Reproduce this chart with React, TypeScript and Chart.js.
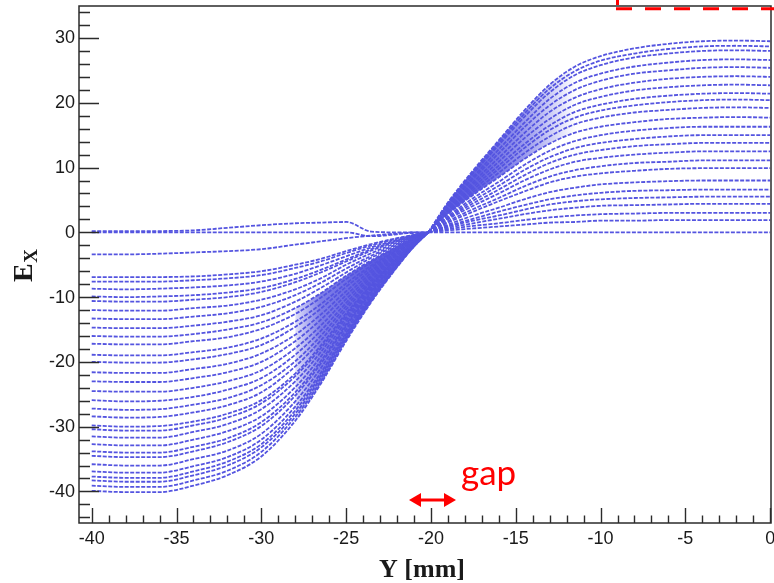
import React, { useEffect, useRef } from 'react';
import { Chart, registerables } from 'chart.js';

Chart.register(...registerables);

// ---- Axis ranges and ticks ----
const X_MIN = -40.75;
const X_MAX = 0.05;
const Y_MIN = -44.87;
const Y_MAX = 34.94;
const X_MAJOR_TICKS = [-40, -35, -30, -25, -20, -15, -10, -5, 0];
const X_TICK_LABELS = ['-40', '-35', '-30', '-25', '-20', '-15', '-10', '-5', '0'];
const Y_MAJOR_TICKS = [-40, -30, -20, -10, 0, 10, 20, 30];
const Y_TICK_LABELS = ['-40', '-30', '-20', '-10', '0', '10', '20', '30'];
const X_MINOR_STEP = 1;
const Y_MINOR_STEP = 2;

const X_TITLE = 'Y [mm]';
const Y_TITLE_MAIN = 'E';
const Y_TITLE_SUB = 'X';
const GAP_LABEL = 'gap';

// ---- Data: Y positions (mm) where each curve is sampled ----
const LEFT_Y = [-40, -38, -36, -34, -32, -30, -28, -26.5, -25, -23.5, -22, -21, -20.15];
const RIGHT_Y = [-20.15, -19, -17.5, -16, -14.5, -13, -11.5, -10, -8, -6, -4, -2, 0];

// ---- E_X values of each curve on the left side (Y < gap centre) ----
const LEFT_CURVES = [
  [0.2, 0.2, 0.2, 0.3, 0.7, 1.1, 1.4, 1.5, 1.6, 0.1, 0, 0, 0],
  [0, 0, 0, 0, 0, 0, 0, 0, 0, -0.6, -0.3, 0, 0],
  [-3.4, -3.4, -3.3, -3.1, -2.9, -2.6, -1.9, -1.4, -0.9, -0.5, -0.2, -0.1, 0],
  [-6.9, -6.9, -6.9, -6.8, -6.5, -6.0, -5.0, -4.1, -2.9, -1.8, -0.9, -0.4, 0],
  [-7.6, -7.6, -7.6, -7.4, -7.1, -6.6, -5.5, -4.5, -3.2, -2.0, -1.0, -0.4, 0],
  [-8.7, -8.8, -8.7, -8.5, -8.2, -7.6, -6.4, -5.1, -3.7, -2.3, -1.2, -0.5, 0],
  [-9.9, -10.0, -9.9, -9.7, -9.3, -8.6, -7.2, -5.8, -4.2, -2.6, -1.3, -0.5, 0],
  [-10.6, -10.7, -10.7, -10.4, -10.0, -9.2, -7.7, -6.2, -4.5, -2.8, -1.4, -0.6, 0],
  [-12.0, -12.1, -12.1, -11.7, -11.3, -10.4, -8.8, -7.1, -5.0, -3.2, -1.6, -0.7, 0],
  [-13.3, -13.4, -13.4, -13.0, -12.5, -11.5, -9.7, -7.8, -5.6, -3.6, -1.8, -0.7, 0],
  [-14.7, -14.8, -14.8, -14.4, -13.8, -12.8, -10.7, -8.6, -6.2, -3.9, -2.0, -0.8, 0],
  [-16.0, -16.1, -16.1, -15.7, -15.0, -13.9, -11.7, -9.4, -6.7, -4.3, -2.2, -0.9, 0],
  [-17.2, -17.3, -17.3, -16.8, -16.2, -14.9, -12.6, -10.1, -7.2, -4.6, -2.3, -0.9, 0],
  [-18.9, -19.0, -19.0, -18.5, -17.8, -16.4, -13.8, -11.1, -7.9, -5.1, -2.6, -1.0, 0],
  [-20.0, -20.1, -20.1, -19.6, -18.8, -17.4, -14.6, -11.8, -8.4, -5.4, -2.7, -1.1, 0],
  [-21.6, -21.7, -21.7, -21.1, -20.3, -18.7, -15.8, -12.7, -9.1, -5.8, -2.9, -1.2, 0],
  [-23.0, -23.1, -23.1, -22.5, -21.6, -20.0, -16.8, -13.5, -9.7, -6.2, -3.1, -1.3, 0],
  [-24.5, -24.6, -24.6, -24.0, -23.0, -21.3, -17.9, -14.4, -10.3, -6.6, -3.3, -1.3, 0],
  [-25.9, -26.1, -26.0, -25.4, -24.3, -22.5, -18.9, -15.2, -10.9, -6.9, -3.5, -1.4, 0],
  [-27.2, -27.4, -27.3, -26.6, -25.6, -23.6, -19.9, -16.0, -11.4, -7.3, -3.7, -1.5, 0],
  [-28.4, -28.6, -28.5, -27.8, -26.7, -24.7, -20.7, -16.7, -11.9, -7.6, -3.9, -1.6, 0],
  [-29.8, -30.0, -29.9, -29.2, -28.0, -25.9, -21.8, -17.5, -12.5, -8.0, -4.1, -1.6, 0],
  [-30.4, -30.6, -30.6, -29.8, -28.6, -26.4, -22.2, -17.9, -12.8, -8.1, -4.1, -1.7, 0],
  [-31.5, -31.7, -31.7, -30.8, -29.6, -27.3, -23.0, -18.5, -13.2, -8.4, -4.3, -1.7, 0],
  [-32.7, -32.9, -32.9, -32.0, -30.7, -28.4, -23.9, -19.2, -13.7, -8.7, -4.4, -1.8, 0],
  [-33.8, -34.0, -34.0, -33.1, -31.8, -29.3, -24.7, -19.9, -14.2, -9.0, -4.6, -1.9, 0],
  [-34.5, -34.7, -34.7, -33.8, -32.4, -29.9, -25.2, -20.3, -14.5, -9.2, -4.7, -1.9, 0],
  [-35.8, -36.0, -36.0, -35.0, -33.7, -31.1, -26.1, -21.0, -15.0, -9.6, -4.9, -2.0, 0],
  [-36.9, -37.1, -37.1, -36.1, -34.7, -32.0, -26.9, -21.7, -15.5, -9.9, -5.0, -2.0, 0],
  [-37.7, -37.9, -37.9, -36.9, -35.4, -32.7, -27.5, -22.1, -15.8, -10.1, -5.1, -2.1, 0],
  [-38.3, -38.5, -38.5, -37.5, -36.0, -33.2, -28.0, -22.5, -16.1, -10.2, -5.2, -2.1, 0],
  [-39.1, -39.3, -39.3, -38.3, -36.8, -33.9, -28.5, -23.0, -16.4, -10.5, -5.3, -2.2, 0],
  [-39.9, -40.1, -40.1, -39.1, -37.5, -34.6, -29.1, -23.4, -16.8, -10.7, -5.4, -2.2, 0],
];

// ---- E_X values of each curve on the right side (Y > gap centre) ----
const RIGHT_CURVES = [
  [0, 4.6, 9.6, 14.2, 18.8, 22.8, 25.6, 27.2, 28.4, 29.1, 29.5, 29.6, 29.5],
  [0, 4.5, 9.3, 13.8, 18.3, 22.2, 24.9, 26.5, 27.6, 28.3, 28.7, 28.8, 28.7],
  [0, 4.4, 9.1, 13.5, 17.8, 21.6, 24.3, 25.8, 27.0, 27.6, 28.0, 28.1, 28.0],
  [0, 4.1, 8.6, 12.8, 16.9, 20.6, 23.1, 24.5, 25.6, 26.2, 26.6, 26.7, 26.6],
  [0, 4.0, 8.3, 12.2, 16.2, 19.6, 22.0, 23.4, 24.5, 25.0, 25.4, 25.5, 25.4],
  [0, 3.7, 7.8, 11.5, 15.3, 18.6, 20.8, 22.1, 23.1, 23.7, 24.0, 24.1, 24.0],
  [0, 3.5, 7.4, 10.9, 14.5, 17.5, 19.7, 20.9, 21.9, 22.4, 22.7, 22.8, 22.7],
  [0, 3.3, 7.0, 10.3, 13.6, 16.5, 18.6, 19.7, 20.6, 21.1, 21.4, 21.5, 21.4],
  [0, 3.2, 6.6, 9.8, 13.0, 15.8, 17.7, 18.8, 19.6, 20.1, 20.4, 20.5, 20.4],
  [0, 3.0, 6.2, 9.2, 12.2, 14.8, 16.7, 17.7, 18.5, 18.9, 19.2, 19.3, 19.2],
  [0, 2.8, 5.8, 8.5, 11.3, 13.7, 15.4, 16.3, 17.0, 17.5, 17.7, 17.8, 17.7],
  [0, 2.5, 5.3, 7.8, 10.4, 12.6, 14.1, 15.0, 15.7, 16.1, 16.3, 16.3, 16.3],
  [0, 2.3, 4.9, 7.2, 9.6, 11.6, 13.0, 13.8, 14.4, 14.8, 15.0, 15.0, 15.0],
  [0, 2.2, 4.5, 6.6, 8.8, 10.7, 12.0, 12.7, 13.3, 13.6, 13.8, 13.8, 13.8],
  [0, 2.0, 4.1, 6.0, 8.0, 9.7, 10.9, 11.5, 12.0, 12.3, 12.5, 12.5, 12.5],
  [0, 1.7, 3.6, 5.3, 7.1, 8.6, 9.6, 10.2, 10.7, 10.9, 11.1, 11.1, 11.1],
  [0, 1.5, 3.2, 4.8, 6.3, 7.7, 8.6, 9.1, 9.5, 9.8, 9.9, 9.9, 9.9],
  [0, 1.2, 2.6, 3.8, 5.1, 6.2, 6.9, 7.4, 7.7, 7.9, 8.0, 8.0, 8.0],
  [0, 1.0, 2.1, 3.2, 4.2, 5.1, 5.7, 6.1, 6.4, 6.5, 6.6, 6.6, 6.6],
  [0, 0.9, 1.8, 2.6, 3.5, 4.3, 4.8, 5.1, 5.3, 5.4, 5.5, 5.5, 5.5],
  [0, 0.7, 1.4, 2.1, 2.8, 3.4, 3.8, 4.1, 4.2, 4.3, 4.4, 4.4, 4.4],
  [0, 0.5, 1.0, 1.4, 1.9, 2.3, 2.6, 2.8, 2.9, 3.0, 3.0, 3.0, 3.0],
  [0, 0.3, 0.6, 0.9, 1.2, 1.5, 1.6, 1.8, 1.8, 1.9, 1.9, 1.9, 1.9],
  [0, 0, 0, 0, 0, 0, 0, 0, 0, 0, 0, 0, 0],
];

// Where the dense vertical hatching appears near the gap: Y range (mm)
// and the curve (index) that bounds it on the inner side.
const LEFT_BAND_FROM = -28.5;
const LEFT_BAND_INNER = 11;
const RIGHT_BAND_TO = -11.5;
const RIGHT_BAND_INNER = 10;

// ---- Styles ----
const LINE_COLOR = 'rgb(84, 84, 224)';
const BAND_RGB = '84,84,224';
const AXIS_COLOR = '#2b2b2b';
const TEXT_COLOR = '#1a1a1a';
const RED = 'rgb(255, 0, 0)';

const framePlugin = {
  id: 'rootFrame',
  afterDraw(chart: any) {
    const ctx: CanvasRenderingContext2D = chart.ctx;
    const { left, right, top, bottom } = chart.chartArea;
    const xs = chart.scales.x;
    const ys = chart.scales.y;
    ctx.save();

    // frame
    ctx.strokeStyle = AXIS_COLOR;
    ctx.lineWidth = 1.5;
    ctx.setLineDash([]);
    ctx.strokeRect(left, top, right - left, bottom - top);

    // x ticks (inward)
    ctx.lineWidth = 1.4;
    ctx.beginPath();
    for (let v = Math.ceil(X_MIN); v <= X_MAX + 1e-9; v += X_MINOR_STEP) {
      const px = Math.round(xs.getPixelForValue(v)) + 0.5;
      const major = X_MAJOR_TICKS.includes(v);
      ctx.moveTo(px, bottom);
      ctx.lineTo(px, bottom - (major ? 15 : 7.5));
    }
    // y ticks (inward)
    const yStart = Math.ceil(Y_MIN / Y_MINOR_STEP) * Y_MINOR_STEP;
    for (let v = yStart; v <= Y_MAX + 1e-9; v += Y_MINOR_STEP) {
      const py = Math.round(ys.getPixelForValue(v)) + 0.5;
      const major = Y_MAJOR_TICKS.includes(v);
      ctx.moveTo(left, py);
      ctx.lineTo(left + (major ? 20 : 11), py);
    }
    ctx.stroke();

    // tick labels
    ctx.fillStyle = TEXT_COLOR;
    ctx.font = '18px "Liberation Sans", Arial, sans-serif';
    ctx.textAlign = 'center';
    ctx.textBaseline = 'middle';
    X_MAJOR_TICKS.forEach((v, i) => {
      ctx.fillText(X_TICK_LABELS[i], xs.getPixelForValue(v), 539);
    });
    ctx.textAlign = 'right';
    Y_MAJOR_TICKS.forEach((v, i) => {
      ctx.fillText(Y_TICK_LABELS[i], 75, ys.getPixelForValue(v) + 0.5);
    });

    // x title
    ctx.font = 'bold 26px "Liberation Serif", "Times New Roman", serif';
    ctx.textAlign = 'center';
    ctx.textBaseline = 'alphabetic';
    ctx.fillText(X_TITLE, 422, 577);

    // y title E_X (rotated)
    ctx.save();
    ctx.translate(32, 282);
    ctx.rotate(-Math.PI / 2);
    ctx.textAlign = 'left';
    ctx.font = 'bold 28px "Liberation Serif", "Times New Roman", serif';
    ctx.fillText(Y_TITLE_MAIN, 0, 0);
    const ew = ctx.measureText(Y_TITLE_MAIN).width;
    ctx.font = 'bold 19px "Liberation Serif", "Times New Roman", serif';
    ctx.fillText(Y_TITLE_SUB, ew + 0.5, 5);
    ctx.restore();

    // red "gap" annotation
    ctx.fillStyle = RED;
    ctx.strokeStyle = RED;
    ctx.font = '35px Lato, "Open Sans", sans-serif';
    ctx.textAlign = 'left';
    ctx.fillText(GAP_LABEL, 461, 485);

    const ay = 500;
    ctx.lineWidth = 3;
    ctx.beginPath();
    ctx.moveTo(418, ay);
    ctx.lineTo(447, ay);
    ctx.stroke();
    ctx.beginPath();
    ctx.moveTo(409, ay);
    ctx.lineTo(421, ay - 7);
    ctx.lineTo(421, ay + 7);
    ctx.closePath();
    ctx.fill();
    ctx.beginPath();
    ctx.moveTo(456, ay);
    ctx.lineTo(444, ay - 7);
    ctx.lineTo(444, ay + 7);
    ctx.closePath();
    ctx.fill();

    // red dashed box corner (top right)
    ctx.lineWidth = 3;
    ctx.beginPath();
    ctx.moveTo(617.5, 0);
    ctx.lineTo(617.5, 5);
    ctx.stroke();
    ctx.setLineDash([16, 13]);
    ctx.beginPath();
    ctx.moveTo(616, 8.7);
    ctx.lineTo(780, 8.7);
    ctx.stroke();

    ctx.restore();
  },
};

function bandGradient(chart: any, stops: Array<[number, number]>) {
  const area = chart.chartArea;
  if (!area) return `rgba(${BAND_RGB},0.7)`;
  const xs = chart.scales.x;
  const x0 = xs.getPixelForValue(stops[0][0]);
  const x1 = xs.getPixelForValue(stops[stops.length - 1][0]);
  const g = chart.ctx.createLinearGradient(x0, 0, x1, 0);
  stops.forEach(([v, a]) => {
    const t = (xs.getPixelForValue(v) - x0) / (x1 - x0);
    g.addColorStop(Math.min(1, Math.max(0, t)), `rgba(${BAND_RGB},${a})`);
  });
  return g;
}

export default function App() {
  const canvasRef = useRef<HTMLCanvasElement | null>(null);

  useEffect(() => {
    if (!canvasRef.current) return;
    const lineStyle = {
      borderColor: LINE_COLOR,
      borderWidth: 1.8,
      borderDash: [4, 1.5],
      pointRadius: 0,
      fill: false,
      cubicInterpolationMode: 'monotone' as const,
    };
    const lowEnv = LEFT_CURVES[LEFT_CURVES.length - 1];
    const highEnv = RIGHT_CURVES[0];
    const leftBand = LEFT_Y.map((x, i) => ({ x, y: lowEnv[i] })).filter((p) => p.x >= LEFT_BAND_FROM - 0.6);
    const rightBand = RIGHT_Y.map((x, i) => ({ x, y: highEnv[i] })).filter((p) => p.x <= RIGHT_BAND_TO);

    const lineSets = [
      ...LEFT_CURVES.map((c, k) => ({
        label: 'L' + k,
        data: c.map((v, i) => ({ x: LEFT_Y[i], y: v })),
        ...lineStyle,
      })),
      ...RIGHT_CURVES.map((c, k) => ({
        label: 'R' + k,
        data: c.map((v, i) => ({ x: RIGHT_Y[i], y: v })),
        ...lineStyle,
      })),
    ];
    const datasets: any[] = [
      ...lineSets,
      {
        label: 'bandL',
        data: leftBand,
        borderWidth: 0,
        pointRadius: 0,
        fill: LEFT_BAND_INNER,
        cubicInterpolationMode: 'monotone',
        backgroundColor: (c: any) =>
          bandGradient(c.chart, [[LEFT_BAND_FROM, 0], [-26.5, 0.75], [-23.5, 0.95], [-20.15, 1]]),
      },
      {
        label: 'bandR',
        data: rightBand,
        borderWidth: 0,
        pointRadius: 0,
        fill: LEFT_CURVES.length + RIGHT_BAND_INNER,
        cubicInterpolationMode: 'monotone',
        backgroundColor: (c: any) =>
          bandGradient(c.chart, [[-20.15, 1], [-17, 0.9], [-14.5, 0.6], [RIGHT_BAND_TO, 0]]),
      },
    ];
    const chart = new Chart(canvasRef.current, {
      type: 'line',
      data: { datasets },
      options: {
        animation: false,
        responsive: false,
        maintainAspectRatio: false,
        devicePixelRatio: 1,
        layout: { padding: { left: 79, right: 3, top: 6, bottom: 60 } },
        scales: {
          x: { type: 'linear', min: X_MIN, max: X_MAX, display: false },
          y: { type: 'linear', min: Y_MIN, max: Y_MAX, display: false },
        },
        plugins: {
          legend: { display: false },
          tooltip: { enabled: false },
          filler: { propagate: false },
        },
        events: [],
      },
      plugins: [framePlugin],
    });
    return () => chart.destroy();
  }, []);

  return (
    <div style={{ position: 'fixed', left: 0, top: 0, width: 774, height: 583, background: '#fff' }}>
      <canvas ref={canvasRef} width={774} height={583} style={{ display: 'block' }} />
    </div>
  );
}
